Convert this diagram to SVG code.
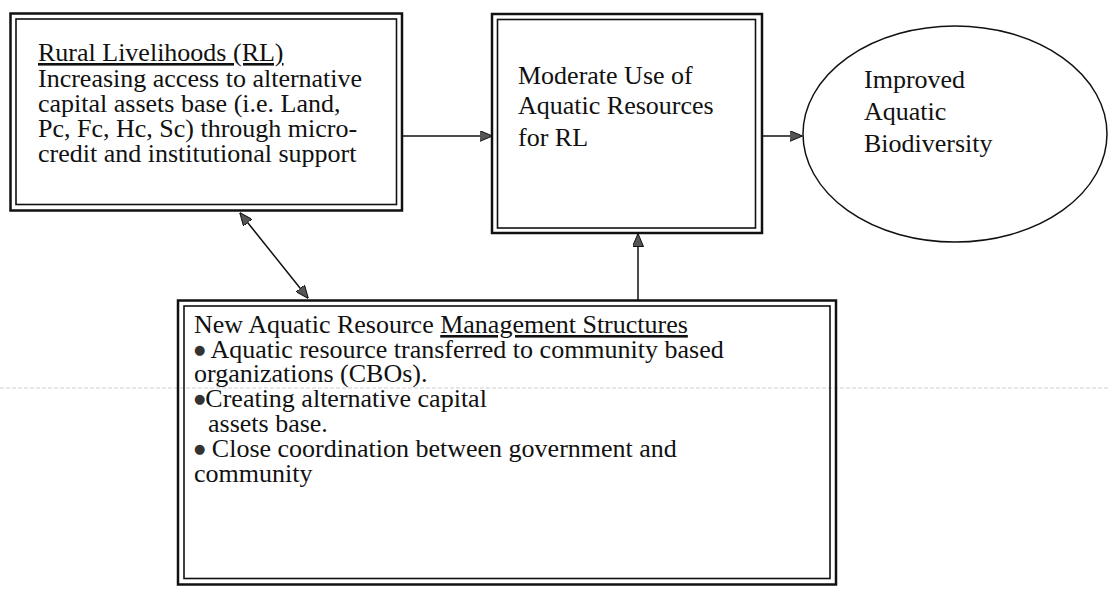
<svg xmlns="http://www.w3.org/2000/svg" width="1108" height="589" viewBox="0 0 1108 589">
  <style>
    .t { font-family: "Liberation Serif", "Times New Roman", serif; font-size: 26px; fill: #111; }
    .u { text-decoration: underline; }
    .b { font-family: "DejaVu Sans", sans-serif; font-size: 13px; fill: #333; }
    .outer { fill: none; stroke: #111; stroke-width: 2.5; }
    .inner { fill: none; stroke: #111; stroke-width: 1.6; }
    .conn { fill: none; stroke: #111; stroke-width: 1.5; }
  </style>
  <defs>
    <marker id="ah" markerUnits="userSpaceOnUse" markerWidth="13" markerHeight="11" viewBox="0 0 13 11" refX="12.5" refY="5.5" orient="auto-start-reverse">
      <path d="M0,0 L13,5.5 L0,11 z" fill="#555" stroke="#111" stroke-width="1"/>
    </marker>
  </defs>
  <rect width="1108" height="589" fill="#fff"/>

  <line x1="0" y1="388" x2="1108" y2="388" stroke="#bbb" stroke-width="1" stroke-dasharray="4,2" opacity="0.7"/>

  <g id="connectors">
    <line class="conn" x1="402" y1="136" x2="492" y2="136" marker-end="url(#ah)"/>
    <line class="conn" x1="762" y1="136" x2="802" y2="136" marker-end="url(#ah)"/>
    <line class="conn" x1="638" y1="300" x2="638" y2="234" marker-end="url(#ah)"/>
    <line class="conn" x1="240" y1="213" x2="308" y2="298" marker-start="url(#ah)" marker-end="url(#ah)"/>
  </g>

  <g id="rural-livelihoods">
    <rect class="outer" x="10.5" y="13.5" width="391.5" height="197"/>
    <rect class="inner" x="16" y="19" width="380.5" height="185.5"/>
    <text class="t u" x="38" y="61">Rural Livelihoods (RL)</text>
    <text class="t" x="38" y="86.5">Increasing access to alternative</text>
    <text class="t" x="38" y="112">capital assets base (i.e. Land,</text>
    <text class="t" x="38" y="137">Pc, Fc, Hc, Sc) through micro-</text>
    <text class="t" x="38" y="162">credit and institutional support</text>
  </g>

  <g id="moderate-use">
    <rect class="outer" x="492" y="14" width="270" height="219"/>
    <rect class="inner" x="497.5" y="19.5" width="258" height="208.5"/>
    <text class="t" x="518" y="84">Moderate Use of</text>
    <text class="t" x="518" y="114">Aquatic Resources</text>
    <text class="t" x="518" y="146">for RL</text>
  </g>

  <g id="biodiversity">
    <ellipse cx="955" cy="134" rx="152" ry="108" fill="none" stroke="#111" stroke-width="1.5"/>
    <text class="t" x="864" y="88">Improved</text>
    <text class="t" x="864" y="120">Aquatic</text>
    <text class="t" x="864" y="152">Biodiversity</text>
  </g>

  <g id="management-structures">
    <rect class="outer" x="178" y="300.5" width="658" height="284"/>
    <rect class="inner" x="184" y="306" width="646" height="272.5"/>
    <text class="t" x="194" y="333">New Aquatic Resource <tspan class="u">Management Structures</tspan></text>
    <text class="t" x="194" y="357.5"><tspan class="b" dy="-4">●</tspan><tspan dy="4"> Aquatic resource transferred to community based</tspan></text>
    <text class="t" x="194" y="382">organizations (CBOs).</text>
    <text class="t" x="194" y="407"><tspan class="b" dy="-4">●</tspan><tspan dy="4">Creating alternative capital</tspan></text>
    <text class="t" x="208" y="432">assets base.</text>
    <text class="t" x="194" y="457"><tspan class="b" dy="-4">●</tspan><tspan dy="4"> Close coordination between government and</tspan></text>
    <text class="t" x="194" y="482">community</text>
  </g>
</svg>
